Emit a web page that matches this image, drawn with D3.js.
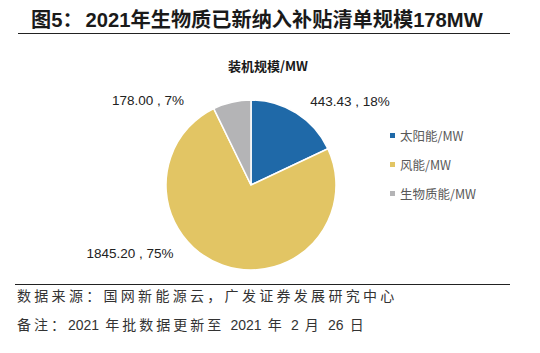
<!DOCTYPE html>
<html><head><meta charset="utf-8">
<script src="https://cdn.jsdelivr.net/npm/d3@7"></script>
<style>
body{margin:0;background:#fff;}
svg{display:block;}
</style></head>
<body>
<svg id="c" width="540" height="353"></svg>
<script>
const categories = ["太阳能/MW", "风能/MW", "生物质能/MW"];
const values = [443.43, 1845.20, 178.00];
const percents = ["18%", "75%", "7%"];
const colors = ["#1f69a8", "#e2c564", "#b4b4b6"];

const svg = d3.select("#c");
const cjk = "'Noto Sans CJK SC', 'Liberation Sans', Arial, sans-serif";
const latin = "'Liberation Sans', Arial, 'Noto Sans CJK SC', sans-serif";

// Title
const t = svg.append("text").attr("x", 31).attr("y", 27)
  .attr("font-family", latin).attr("font-weight", "bold").attr("font-size", 20.2)
  .attr("fill", "#1a1a1a");
t.append("tspan").text("图5：");
t.append("tspan").attr("dx", 3).text("2021年生物质已新纳入补贴清单规模178MW");
svg.append("line").attr("x1", 18).attr("x2", 510).attr("y1", 33.5).attr("y2", 33.5)
  .attr("stroke", "#222").attr("stroke-width", 1);

// Chart title
svg.append("text").attr("x", 268).attr("y", 71).attr("text-anchor", "middle")
  .attr("font-family", cjk).attr("font-weight", "bold").attr("font-size", 13)
  .attr("fill", "#1a1a1a").text("装机规模/MW");

// Pie
const cx = 251, cy = 185, r = 85;
const pie = d3.pie().sort(null).value(d => d.v);
const data = pie(values.map((v, i) => ({v, i})));
const arc = d3.arc().innerRadius(0).outerRadius(r);
const g = svg.append("g").attr("transform", `translate(${cx},${cy})`);
g.selectAll("path").data(data).join("path")
  .attr("d", arc).attr("fill", d => colors[d.data.i])
  .attr("stroke", "#fff").attr("stroke-width", 1.5);

// Data labels
const labelPos = [[350, 106], [130, 258], [148, 105]];
svg.selectAll("text.lbl").data(data).join("text").attr("class", "lbl")
  .attr("x", (d) => labelPos[d.data.i][0]).attr("y", d => labelPos[d.data.i][1])
  .attr("text-anchor", "middle")
  .attr("font-family", latin).attr("font-size", 13.5).attr("fill", "#222")
  .text(d => d3.format(".2f")(d.data.v) + " , " + percents[d.data.i]);

// Legend
const lg = svg.append("g");
categories.forEach((c, i) => {
  const y = 136 + i * 29;
  lg.append("rect").attr("x", 390).attr("y", y - 3).attr("width", 5).attr("height", 5)
    .attr("fill", colors[i]);
  lg.append("text").attr("x", 400).attr("y", y + 5)
    .attr("font-family", cjk).attr("font-size", 12.5).attr("fill", "#595959").text(c);
});

// Footer
svg.append("line").attr("x1", 15).attr("x2", 510).attr("y1", 284.5).attr("y2", 284.5)
  .attr("stroke", "#222").attr("stroke-width", 1);
svg.append("text").attr("x", 17).attr("y", 301)
  .attr("font-family", cjk).attr("font-size", 14).attr("letter-spacing", 3.3).attr("fill", "#333")
  .text("数据来源：国网新能源云，广发证券发展研究中心");
const n = svg.append("text").attr("x", 17).attr("y", 330)
  .attr("font-family", latin).attr("font-size", 14).attr("fill", "#333");
const parts = [["备注：", true], ["2021", false], [" 年批数据更新至 ", true], ["2021", false],
  [" 年 ", true], ["2", false], [" 月 ", true], ["26", false], [" 日", true]];
parts.forEach(([s, c]) => n.append("tspan")
  .attr("font-family", c ? cjk : latin).attr("letter-spacing", c ? 3 : 0).text(s));
</script>
</body></html>
